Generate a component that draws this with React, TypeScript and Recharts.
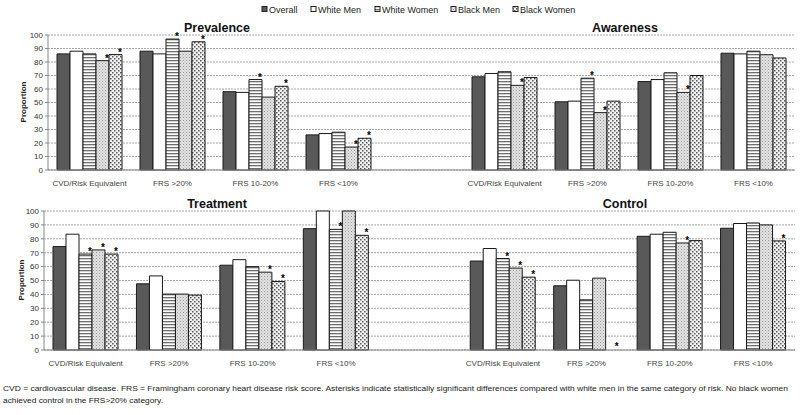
import React from "react";
import { BarChart, Bar, XAxis, YAxis, CartesianGrid, LabelList, Rectangle } from "recharts";

const categories = ["CVD/Risk Equivalent", "FRS >20%", "FRS 10-20%", "FRS <10%"];
const seriesNames = ["Overall", "White Men", "White Women", "Black Men", "Black Women"];
const seriesKeys = ["o", "wm", "ww", "bm", "bw"];
const yTicks = [0, 10, 20, 30, 40, 50, 60, 70, 80, 90, 100];

// Prevalence
const prevOverall = [86, 88, 58, 26];
const prevWhiteMen = [88, 86, 57.5, 27];
const prevWhiteWomen = [86, 97, 67, 28];
const prevBlackMen = [81, 88, 54, 17];
const prevBlackWomen = [85.5, 95, 62, 23.5];
const prevSig = [["bm", "bw"], ["ww", "bw"], ["ww", "bw"], ["bm", "bw"]];

// Awareness
const awOverall = [69, 50.5, 65.5, 86.5];
const awWhiteMen = [71.5, 51, 67, 86];
const awWhiteWomen = [72.8, 68, 72, 88];
const awBlackMen = [62.7, 42.5, 57.5, 85.4];
const awBlackWomen = [68.5, 51, 70, 83];
const awSig = [["bm"], ["ww", "bm"], ["bm"], []];

// Treatment
const trOverall = [74.4, 47.6, 61, 87.3];
const trWhiteMen = [83.3, 53.3, 65, 100];
const trWhiteWomen = [69, 40.2, 60, 86.8];
const trBlackMen = [72, 40.2, 56, 100];
const trBlackWomen = [69, 39.5, 49.3, 82.5];
const trSig = [["ww", "bm", "bw"], [], ["bm", "bw"], ["ww", "bw"]];

// Control
const ctOverall = [64, 46.2, 81.8, 87.6];
const ctWhiteMen = [73, 50.2, 83.3, 91];
const ctWhiteWomen = [65.8, 36.1, 84.7, 91.4];
const ctBlackMen = [58.9, 51.7, 77, 90];
const ctBlackWomen = [52.4, 0, 78.7, 78.5];
const ctSig = [["ww", "bm", "bw"], ["bw"], ["bm"], ["bw"]];

const fills = ["#595959", "#ffffff", "url(#ptWW)", "url(#ptBM)", "url(#ptBW)"];

type Panel = { values: number[][]; sig: string[][] };

const prevalence: Panel = { values: [prevOverall, prevWhiteMen, prevWhiteWomen, prevBlackMen, prevBlackWomen], sig: prevSig };
const awareness: Panel = { values: [awOverall, awWhiteMen, awWhiteWomen, awBlackMen, awBlackWomen], sig: awSig };
const treatment: Panel = { values: [trOverall, trWhiteMen, trWhiteWomen, trBlackMen, trBlackWomen], sig: trSig };
const control: Panel = { values: [ctOverall, ctWhiteMen, ctWhiteWomen, ctBlackMen, ctBlackWomen], sig: ctSig };

function panelRows(p: Panel) {
  return categories.map((c, i) => {
    const row: any = { name: c };
    seriesKeys.forEach((k, s) => {
      row[k] = p.values[s][i];
      row[k + "S"] = p.sig[i].includes(k);
    });
    return row;
  });
}

function buildRows(left: Panel, right: Panel) {
  const gap: any = { name: "" };
  seriesKeys.forEach((k) => {
    gap[k] = null;
    gap[k + "S"] = false;
  });
  return [...panelRows(left), gap, ...panelRows(right)];
}

const topRows = buildRows(prevalence, awareness);
const bottomRows = buildRows(treatment, control);

const Star = (props: any) => {
  const { x, y, width, value } = props;
  if (!value) return null;
  return (
    <text x={x + width - 2} y={y + 1} textAnchor="middle" fontSize={10} fontWeight="bold" style={{ fill: "#000" }}>
      *
    </text>
  );
};

// draws nothing for a zero value (kept only so its asterisk can be placed)
const BarShape = (props: any) => {
  if (props.value === 0 || (Array.isArray(props.value) && props.value[1] === 0)) return <g />;
  return <Rectangle {...props} />;
};

const minSize = (value: any) => (value === 0 ? 1 : 0);

function Row({ data, yWidth, height, top }: { data: any[]; yWidth: number; height: number; top: number }) {
  return (
    <BarChart
      width={800}
      height={height}
      data={data}
      margin={{ top, right: 5, bottom: 0, left: 0 }}
      barGap={0}
      barCategoryGap={9}
    >
      <CartesianGrid vertical={false} stroke="#a8a8a8" strokeDasharray="2 1" />
      <XAxis
        dataKey="name"
        interval={0}
        tickLine={false}
        axisLine={{ stroke: "#888" }}
        tick={{ fontSize: 8, fill: "#444" }}
        height={25}
        tickMargin={4}
      />
      <YAxis
        width={yWidth}
        domain={[0, 100]}
        ticks={yTicks}
        interval={0}
        axisLine={{ stroke: "#888" }}
        tickLine={{ stroke: "#888" }}
        tickSize={3}
        tickMargin={2}
        tick={{ fontSize: 8, fill: "#333" }}
      />
      {seriesKeys.map((k, s) => (
        <Bar
          key={k}
          dataKey={k}
          name={seriesNames[s]}
          fill={fills[s]}
          stroke="#1a1a1a"
          strokeWidth={1}
          barSize={13}
          minPointSize={minSize}
          shape={BarShape}
          isAnimationActive={false}
        >
          <LabelList dataKey={k + "S"} content={Star} />
        </Bar>
      ))}
    </BarChart>
  );
}

const legendX = [262, 311, 375, 451, 513];

export default function App() {
  return (
    <div
      style={{
        position: "absolute",
        left: 0,
        top: 0,
        width: 800,
        height: 415,
        background: "#fff",
        fontFamily: "'Liberation Sans', Arial, sans-serif",
      }}
    >
      <svg width={0} height={0} style={{ position: "absolute" }}>
        <defs>
          <pattern id="ptWW" patternUnits="userSpaceOnUse" width={4} height={3}>
            <rect width={4} height={3} fill="#ffffff" />
            <rect width={4} height={1.3} fill="#6e6e6e" />
          </pattern>
          <pattern id="ptBM" patternUnits="userSpaceOnUse" width={3} height={3}>
            <rect width={3} height={3} fill="#e2e2e2" />
            <rect x={0} y={0} width={1} height={1} fill="#9a9a9a" />
            <rect x={1.5} y={1.5} width={1} height={1} fill="#b5b5b5" />
          </pattern>
          <pattern id="ptBW" patternUnits="userSpaceOnUse" width={4} height={4}>
            <rect width={4} height={4} fill="#f2f2f2" />
            <rect x={0} y={0} width={1.5} height={1.5} fill="#555" />
            <rect x={2} y={2} width={1.5} height={1.5} fill="#555" />
          </pattern>
        </defs>
      </svg>
      <div style={{ position: "absolute", left: 0, top: 0 }}>
        <Row data={topRows} yWidth={48} height={195} top={35} />
      </div>
      <div style={{ position: "absolute", left: 0, top: 195 }}>
        <Row data={bottomRows} yWidth={44} height={180} top={16} />
      </div>
      <svg width={800} height={415} style={{ position: "absolute", left: 0, top: 0, pointerEvents: "none" }}>
        {seriesNames.map((n, i) => (
          <g key={n}>
            <rect x={legendX[i]} y={6.5} width={5} height={5} fill={fills[i]} stroke="#222" strokeWidth={1} />
            <text x={legendX[i] + 7} y={12.5} fontSize={9} fill="#222">
              {n}
            </text>
          </g>
        ))}
        <text x={217} y={32} textAnchor="middle" fontSize={12.5} fontWeight="bold" fill="#111">Prevalence</text>
        <text x={625} y={32} textAnchor="middle" fontSize={12.5} fontWeight="bold" fill="#111">Awareness</text>
        <text x={217} y={208} textAnchor="middle" fontSize={12.5} fontWeight="bold" fill="#111">Treatment</text>
        <text x={625} y={208} textAnchor="middle" fontSize={12.5} fontWeight="bold" fill="#111">Control</text>
        <text x={0} y={0} transform="translate(26,102) rotate(-90)" textAnchor="middle" fontSize={8} fontWeight="bold" fill="#222">Proportion</text>
        <text x={0} y={0} transform="translate(24,280) rotate(-90)" textAnchor="middle" fontSize={8} fontWeight="bold" fill="#222">Proportion</text>
        <text x={3} y={391} fontSize={7.9} fill="#222" textLength={785} lengthAdjust="spacingAndGlyphs">
          CVD = cardiovascular disease. FRS = Framingham coronary heart disease risk score. Asterisks indicate statistically significant differences compared with white men in the same category of risk. No black women
        </text>
        <text x={3} y={403} fontSize={7.9} fill="#222" textLength={160} lengthAdjust="spacingAndGlyphs">
          achieved control in the FRS&gt;20% category.
        </text>
      </svg>
    </div>
  );
}
